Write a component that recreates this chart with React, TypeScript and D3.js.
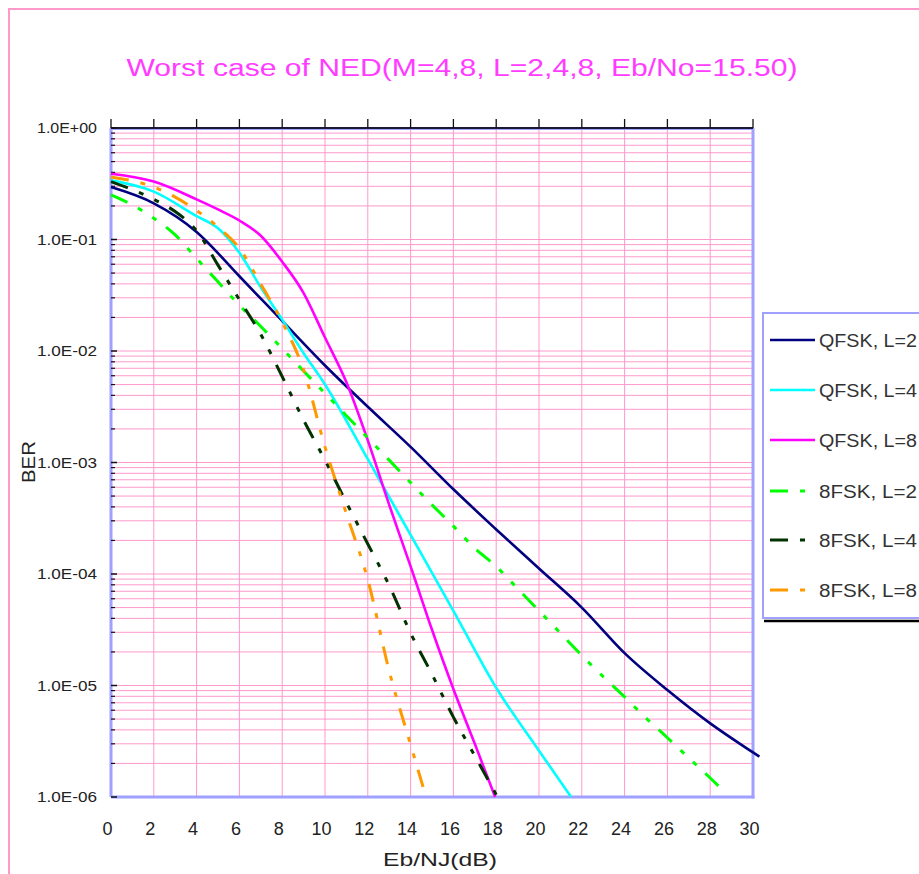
import React from "react";
import * as d3 from "d3";

const title = "Worst case of NED(M=4,8, L=2,4,8, Eb/No=15.50)";
const xLabel = "Eb/NJ(dB)";
const yLabel = "BER";
const xTicks = [0, 2, 4, 6, 8, 10, 12, 14, 16, 18, 20, 22, 24, 26, 28, 30];
const yTicks = [1, 1e-1, 1e-2, 1e-3, 1e-4, 1e-5, 1e-6];
const yTickLabels = ["1.0E+00", "1.0E-01", "1.0E-02", "1.0E-03", "1.0E-04", "1.0E-05", "1.0E-06"];

const seriesNames = ["QFSK, L=2", "QFSK, L=4", "QFSK, L=8", "8FSK, L=2", "8FSK, L=4", "8FSK, L=8"];
const seriesColors = ["#000080", "#00ffff", "#ff00ff", "#00ff00", "#003300", "#ff9900"];
const seriesDashed = [false, false, false, true, true, true];

const qfskL2X = [0, 2, 4, 6, 8, 10, 12, 14, 16, 18, 20, 22, 24, 26, 28, 30, 30.3];
const qfskL2Y = [0.295, 0.211, 0.117, 0.0468, 0.0186, 0.00741, 0.00316, 0.00138, 5.75e-4, 2.51e-4, 1.12e-4, 5.0e-5, 1.95e-5, 9.1e-6, 4.57e-6, 2.51e-6, 2.3e-6];

const qfskL4X = [0, 2, 4, 5, 6, 7, 8, 9, 10, 12, 14, 16, 18, 20, 21.5];
const qfskL4Y = [0.339, 0.269, 0.162, 0.126, 0.0759, 0.0372, 0.0191, 0.00955, 0.00501, 0.00107, 2.24e-4, 4.68e-5, 9.55e-6, 2.6e-6, 1.0e-6];

const qfskL8X = [0, 2, 4, 5, 6, 7, 8, 9, 10, 11, 12, 13, 14, 15, 16, 17, 17.95];
const qfskL8Y = [0.389, 0.331, 0.229, 0.186, 0.148, 0.108, 0.0631, 0.0331, 0.0132, 0.00525, 0.00158, 4.17e-4, 1.17e-4, 3.16e-5, 9.3e-6, 3.0e-6, 1.0e-6];

const fsk8L2X = [0, 1, 2, 3, 4, 5, 6, 7, 8, 9, 10, 11, 12, 13, 14, 15, 16, 17, 18, 19, 20, 21, 22, 23, 24, 25, 26, 27, 28, 28.7];
const fsk8L2Y = [0.251, 0.204, 0.155, 0.11, 0.0676, 0.0417, 0.0257, 0.0166, 0.0105, 0.00661, 0.00417, 0.00263, 0.00166, 0.00105, 6.6e-4, 4.17e-4, 2.69e-4, 1.7e-4, 1.17e-4, 7.4e-5, 4.68e-5, 2.95e-5, 1.86e-5, 1.2e-5, 7.9e-6, 5.1e-6, 3.4e-6, 2.24e-6, 1.48e-6, 1.1e-6];

const fsk8L4X = [0, 2, 3, 4, 5, 6, 7, 8, 9, 10, 11, 12, 13, 14, 15, 16, 17, 18];
const fsk8L4Y = [0.331, 0.229, 0.178, 0.12, 0.0589, 0.0288, 0.0141, 0.00589, 0.0024, 0.00105, 4.37e-4, 1.86e-4, 7.9e-5, 2.95e-5, 1.26e-5, 5.2e-6, 2.34e-6, 1.05e-6];

const fsk8L8X = [0, 2, 3, 4, 5, 6, 7, 8, 9, 10, 11, 12, 13, 14, 14.6];
const fsk8L8Y = [0.363, 0.295, 0.24, 0.182, 0.129, 0.0832, 0.0398, 0.0182, 0.00676, 0.00138, 3.47e-4, 8.9e-5, 1.35e-5, 2.95e-6, 1.2e-6];

const seriesX = [qfskL2X, qfskL4X, qfskL8X, fsk8L2X, fsk8L4X, fsk8L8X];
const seriesY = [qfskL2Y, qfskL4Y, qfskL8Y, fsk8L2Y, fsk8L4Y, fsk8L8Y];

const FONT = "'Liberation Sans', Arial, sans-serif";
const GRID = "#ff99cc";
const LAV = "#a0a0ff";
const DASH = "18 12 5 12 5 12";

export default function App() {
  const left = 111, right = 753, top = 128, bottom = 797;
  const x = d3.scaleLinear().domain([0, 30]).range([left, right]);
  const y = d3.scaleLog().domain([1, 1e-6]).range([top, bottom]);

  const minor: number[] = [];
  for (let e = 0; e < 6; e++) {
    for (let k = 2; k <= 9; k++) minor.push(k * Math.pow(10, -e - 1));
  }

  const line = d3
    .line<[number, number]>()
    .x((d) => x(d[0]))
    .y((d) => y(d[1]))
    .curve(d3.curveMonotoneX);

  const legendRows = [340, 390, 440, 491, 540, 590];

  return (
    <svg width={919} height={874} style={{ position: "absolute", left: 0, top: 0, background: "#fff" }} fontFamily={FONT}>
      <rect x={0} y={0} width={919} height={874} fill="#fff" />
      <rect x={9} y={9} width={1000} height={1000} fill="none" stroke="#ff99cc" strokeWidth={2} />

      <text x={462} y={76} textAnchor="middle" fontSize={23} fill="#ff3cff" textLength={671} lengthAdjust="spacingAndGlyphs">
        {title}
      </text>

      {minor.map((v, i) => (
        <line key={"m" + i} x1={left} x2={right} y1={y(v)} y2={y(v)} stroke={GRID} strokeWidth={1} />
      ))}
      {yTicks.map((v, i) => (
        <line key={"M" + i} x1={left} x2={right} y1={y(v)} y2={y(v)} stroke={GRID} strokeWidth={1} />
      ))}
      {xTicks.map((v, i) => (
        <line key={"v" + i} x1={x(v)} x2={x(v)} y1={top} y2={bottom} stroke={GRID} strokeWidth={1} />
      ))}

      <line x1={left} x2={left} y1={top} y2={bottom} stroke={LAV} strokeWidth={3} />
      <line x1={right} x2={right} y1={top} y2={bottom + 1.5} stroke={LAV} strokeWidth={3} />
      <line x1={left} x2={right + 1.5} y1={bottom} y2={bottom} stroke={LAV} strokeWidth={3} />
      <line x1={left} x2={right} y1={top + 1.5} y2={top + 1.5} stroke={LAV} strokeWidth={1} />
      <line x1={left} x2={right} y1={top} y2={top} stroke="#1a1a33" strokeWidth={2} />

      {xTicks.map((v, i) => (
        <line key={"tt" + i} x1={x(v)} x2={x(v)} y1={top - 9} y2={top} stroke="#111" strokeWidth={1.3} />
      ))}
      {minor.map((v, i) => (
        <line key={"lt" + i} x1={left} x2={left + 4} y1={y(v)} y2={y(v)} stroke="#111" strokeWidth={1.2} />
      ))}
      {yTicks.map((v, i) => (
        <line key={"LT" + i} x1={left} x2={left + 6} y1={y(v)} y2={y(v)} stroke="#111" strokeWidth={1.5} />
      ))}

      {seriesX.map((xs, s) => {
        const pts = xs.map((xv, i) => [xv, seriesY[s][i]] as [number, number]);
        return (
          <path
            key={"s" + s}
            d={line(pts) || ""}
            fill="none"
            stroke={seriesColors[s]}
            strokeWidth={seriesDashed[s] ? 3 : 2.6}
            strokeDasharray={seriesDashed[s] ? DASH : undefined}
          />
        );
      })}

      {yTicks.map((v, i) => (
        <text key={"yl" + i} x={97} y={y(v) + 5} textAnchor="end" fontSize={14} fill="#222" textLength={60} lengthAdjust="spacingAndGlyphs">
          {yTickLabels[i]}
        </text>
      ))}
      {xTicks.map((v, i) => (
        <text key={"xl" + i} x={x(v) - 3.5} y={835} textAnchor="middle" fontSize={18} fill="#222">
          {String(v)}
        </text>
      ))}
      <text x={440} y={866} textAnchor="middle" fontSize={19} fill="#222" textLength={114} lengthAdjust="spacingAndGlyphs">
        {xLabel}
      </text>
      <text transform="translate(35,462) rotate(-90)" textAnchor="middle" fontSize={19} fill="#222" textLength={42} lengthAdjust="spacingAndGlyphs">
        {yLabel}
      </text>

      <line x1={764} x2={919} y1={621} y2={621} stroke="#000" strokeWidth={2.5} />
      <rect x={763} y={313} width={200} height={305} fill="#fff" stroke={LAV} strokeWidth={2} />
      {seriesNames.map((n, i) => (
        <g key={"lg" + i}>
          <line
            x1={770}
            x2={815}
            y1={legendRows[i]}
            y2={legendRows[i]}
            stroke={seriesColors[i]}
            strokeWidth={seriesDashed[i] ? 3 : 2.6}
            strokeDasharray={seriesDashed[i] ? DASH : undefined}
          />
          <text x={819} y={legendRows[i] + 6.5} fontSize={17.5} fill="#333" textLength={98} lengthAdjust="spacingAndGlyphs">
            {n}
          </text>
        </g>
      ))}
    </svg>
  );
}
